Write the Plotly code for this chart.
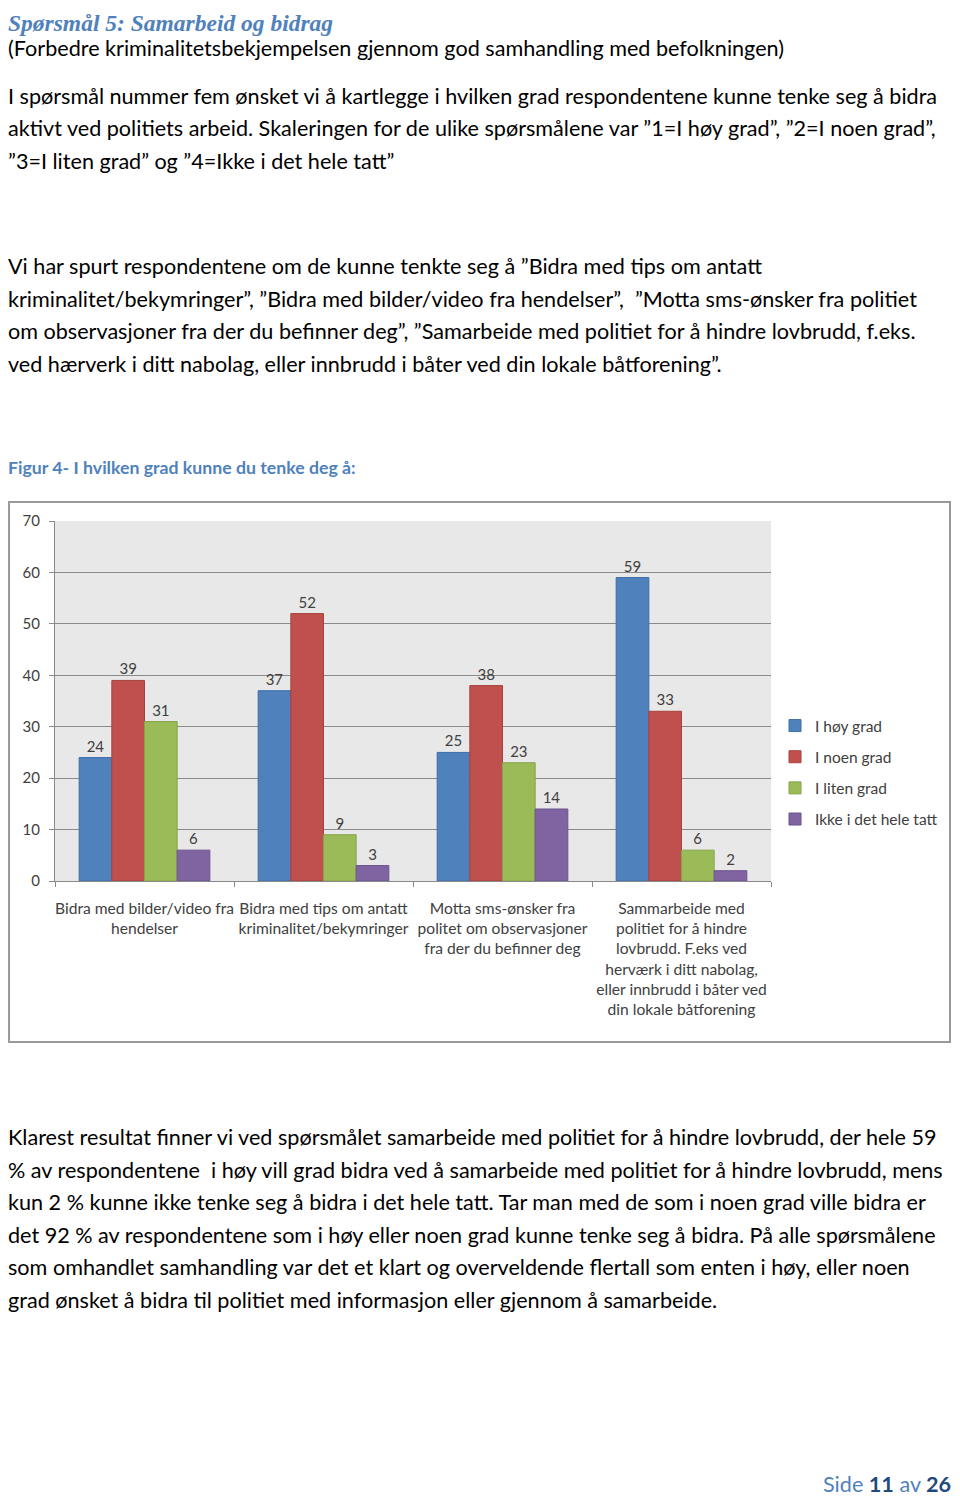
import plotly.graph_objects as go

# Page geometry (pixels); the html body adds an 8px margin around the figure
OFF = 8
W, H = 960 - 2 * OFF, 1508 - 2 * OFF - 4

# Chart data
categories = [
    "Bidra med bilder/video fra<br>hendelser",
    "Bidra med tips om antatt<br>kriminalitet/bekymringer",
    "Motta sms-ønsker fra<br>politet om observasjoner<br>fra der du befinner deg",
    "Sammarbeide med<br>politiet for å hindre<br>lovbrudd. F.eks ved<br>herværk i ditt nabolag,<br>eller innbrudd i båter ved<br>din lokale båtforening",
]
series_names = ["I høy grad", "I noen grad", "I liten grad", "Ikke i det hele tatt"]
hoy_grad = [24, 37, 25, 59]
noen_grad = [39, 52, 38, 33]
liten_grad = [31, 9, 23, 6]
ikke_i_det_hele_tatt = [6, 3, 14, 2]
series_values = [hoy_grad, noen_grad, liten_grad, ikke_i_det_hele_tatt]
colors = ["#4f81bd", "#c0504d", "#9bbb59", "#8064a2"]
edges = ["#3d6ea8", "#a9403d", "#86a347", "#6b5290"]

# Page text
title = "Spørsmål 5: Samarbeid og bidrag"
subtitle = "(Forbedre kriminalitetsbekjempelsen gjennom god samhandling med befolkningen)"
para1 = [
    "I spørsmål nummer fem ønsket vi å kartlegge i hvilken grad respondentene kunne tenke seg å bidra",
    "aktivt ved politiets arbeid. Skaleringen for de ulike spørsmålene var ”1=I høy grad”, ”2=I noen grad”,",
    "”3=I liten grad” og ”4=Ikke i det hele tatt”",
]
para2 = [
    "Vi har spurt respondentene om de kunne tenkte seg å ”Bidra med tips om antatt",
    "kriminalitet/bekymringer”, ”Bidra med bilder/video fra hendelser”,  ”Motta sms-ønsker fra politiet",
    "om observasjoner fra der du befinner deg”, ”Samarbeide med politiet for å hindre lovbrudd, f.eks.",
    "ved hærverk i ditt nabolag, eller innbrudd i båter ved din lokale båtforening”.",
]
fig_caption = "Figur 4- I hvilken grad kunne du tenke deg å:"
para3 = [
    "Klarest resultat finner vi ved spørsmålet samarbeide med politiet for å hindre lovbrudd, der hele 59",
    "% av respondentene  i høy vill grad bidra ved å samarbeide med politiet for å hindre lovbrudd, mens",
    "kun 2 % kunne ikke tenke seg å bidra i det hele tatt. Tar man med de som i noen grad ville bidra er",
    "det 92 % av respondentene som i høy eller noen grad kunne tenke seg å bidra. På alle spørsmålene",
    "som omhandlet samhandling var det et klart og overveldende flertall som enten i høy, eller noen",
    "grad ønsket å bidra til politiet med informasjon eller gjennom å samarbeide.",
]


# page pixel -> paper fraction
def px(x):
    return (x - OFF) / W


def py(y):
    return 1 - (y - OFF) / H


fig = go.Figure()
for i, name in enumerate(series_names):
    fig.add_trace(go.Bar(
        x=categories, y=series_values[i], name=name,
        marker=dict(color=colors[i], line=dict(color=edges[i], width=1)),
        text=series_values[i], textposition="outside",
        textfont=dict(size=15, color="#404040", family="Lato"),
        cliponaxis=False, legendgroup=name,
    ))

body = dict(family="Lato", size=21.6, color="#000000")
ann = []


def line(text, y, font=body, x=OFF):
    ann.append(dict(text=text, x=px(x), y=py(y), xref="paper", yref="paper",
                    xanchor="left", yanchor="middle", showarrow=False, font=font,
                    borderpad=0, borderwidth=0))


line("<b><i>" + title + "</i></b>", 23, dict(family="Liberation Serif", size=23.5, color="#4f81bd"))
line(subtitle, 48)
for k, t in enumerate(para1):
    line(t, 96 + 32.3 * k)
for k, t in enumerate(para2):
    line(t, 266 + 32.7 * k)
line("<b>" + fig_caption + "</b>", 467, dict(family="Lato", size=17.7, color="#4f81bd"))
for k, t in enumerate(para3):
    line(t, 1137 + 32.5 * k)

ann.append(dict(
    text="<span style='color:#4f81bd'>Side </span><b>11</b><span style='color:#4f81bd'> av </span><b>26</b>",
    x=px(951), y=py(1484), xref="paper", yref="paper", xanchor="right", yanchor="middle",
    showarrow=False, font=dict(family="Lato", size=21.6, color="#1f497d"),
    borderpad=0, borderwidth=0))

fig.update_layout(
    width=W, height=H,
    margin=dict(l=0, r=0, t=0, b=0, autoexpand=False),
    paper_bgcolor="white", plot_bgcolor="#e8e8e8",
    barmode="group", bargap=0.27, bargroupgap=0,
    font=dict(family="Lato", color="#404040"),
    annotations=ann,
    showlegend=True,
    legend=dict(x=px(775), y=py(709), xanchor="left", yanchor="top",
                font=dict(size=15.5, color="#404040"), traceorder="grouped",
                tracegroupgap=8, bgcolor="rgba(0,0,0,0)"),
    shapes=[dict(type="rect", xref="paper", yref="paper",
                 x0=px(OFF + 1), x1=px(950), y0=py(1042), y1=py(502),
                 line=dict(color="#9a9a9a", width=2))],
    xaxis=dict(domain=[px(55), px(771)], tickson="boundaries", ticks="outside",
               ticklen=5, tickcolor="#8a8a8a", showline=True, linecolor="#8a8a8a",
               tickfont=dict(size=15.6, color="#404040"), ticklabelstandoff=13,
               tickangle=0, automargin=False),
    yaxis=dict(domain=[py(881), py(521)], range=[0, 70], dtick=10,
               ticks="outside", ticklen=5, tickcolor="#8a8a8a",
               showline=True, linecolor="#8a8a8a", gridcolor="#8a8a8a",
               tickfont=dict(size=15, color="#404040"), zeroline=False,
               automargin=False, ticklabelstandoff=6),
)

fig.write_html("out.html")
